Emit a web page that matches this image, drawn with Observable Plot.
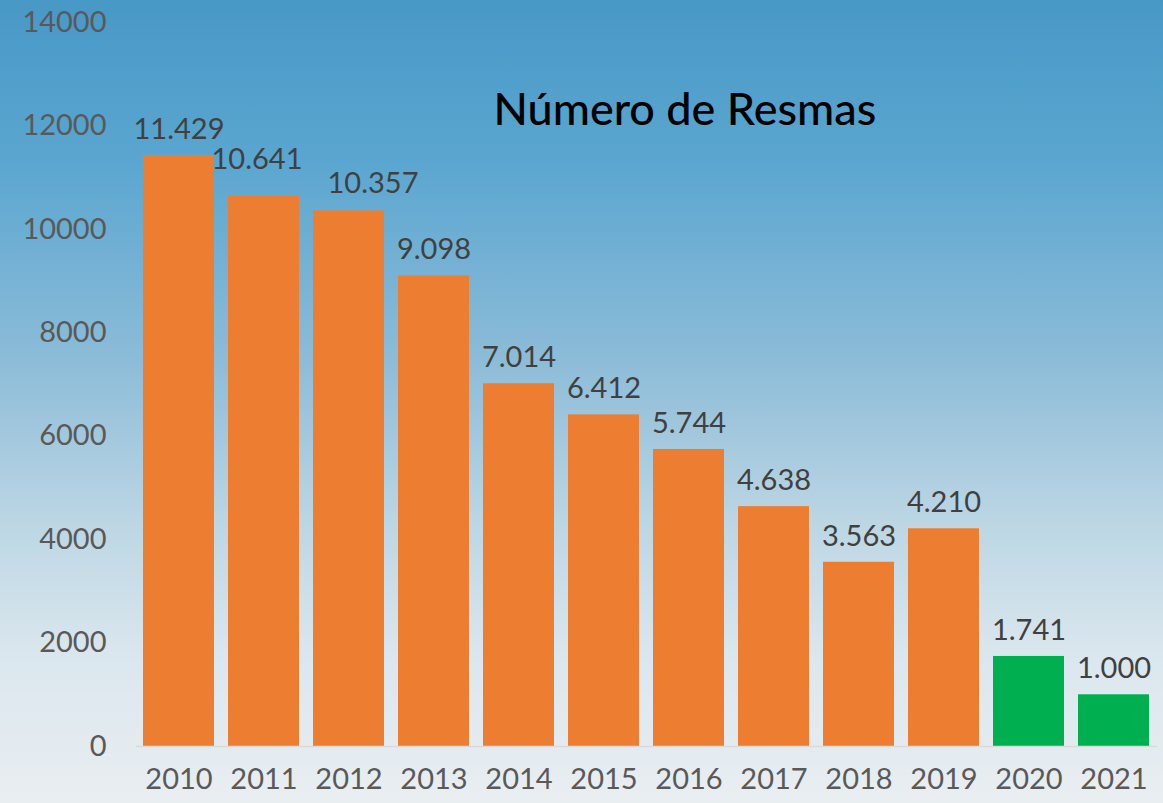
<!DOCTYPE html>
<html>
<head>
<meta charset="utf-8">
<script src="https://cdn.jsdelivr.net/npm/d3@7"></script>
<script src="https://cdn.jsdelivr.net/npm/@observablehq/plot@0.6"></script>
<style>
  html, body { margin: 0; padding: 0; }
  body {
    width: 1163px; height: 803px; overflow: hidden;
    background: linear-gradient(to bottom, #4898c6 0%, #5aa6d0 20%, #8dbcd8 45%, #bcd6e4 65%, #dbe7ee 82%, #e9eef1 100%);
  }
  #chart svg { display: block; background: transparent; }
</style>
</head>
<body>
<div id="chart"></div>
<script>
const years = ["2010","2011","2012","2013","2014","2015","2016","2017","2018","2019","2020","2021"];
const resmas = [11429, 10641, 10357, 9098, 7014, 6412, 5744, 4638, 3563, 4210, 1741, 1000];
const groups = ["past","past","past","past","past","past","past","past","past","past","goal","goal"];
const yTicks = [0, 2000, 4000, 6000, 8000, 10000, 12000, 14000];
const title = "Número de Resmas";

const data = years.map((y, i) => ({year: y, value: resmas[i], group: groups[i]}));
const fmt = v => d3.format(",.3f")(v / 1000).replace(",", "");
const font = "'Century Gothic', 'URW Gothic', Lato, 'DejaVu Sans', sans-serif";
const labelStyle = {x: "year", y: "value", text: d => fmt(d.value), fontSize: 29, fill: "#404040"};

const chart = Plot.plot({
  width: 1163,
  height: 803,
  marginLeft: 136,
  marginRight: 6,
  marginTop: 22,
  marginBottom: 57,
  style: {background: "transparent", fontFamily: font, overflow: "visible"},
  x: {domain: years, paddingInner: 0.16, paddingOuter: 0.05, label: null},
  y: {domain: [0, 14000], label: null},
  color: {domain: ["past", "goal"], range: ["#ED7D31", "#00B050"]},
  marks: [
    Plot.axisY({ticks: yTicks, tickSize: 0, tickPadding: 30, tickFormat: d => String(d), label: null,
      fontSize: 29, fill: "#595959", textAnchor: "end"}),
    Plot.axisX({tickSize: 0, tickPadding: 22, label: null, fontSize: 29, fill: "#595959"}),
    Plot.barY(data, {x: "year", y: "value", fill: "group"}),
    Plot.ruleY([0], {stroke: "#d9d9d9", strokeWidth: 1.5}),
    Plot.text(data.filter(d => d.year !== "2011" && d.year !== "2012"), {...labelStyle, dy: -26}),
    Plot.text(data.filter(d => d.year === "2011"), {...labelStyle, dy: -36, dx: -7}),
    Plot.text(data.filter(d => d.year === "2012"), {...labelStyle, dy: -27, dx: 24}),
    Plot.text([title], {frameAnchor: "top-left", text: d => d, dx: 357, dy: 88,
      lineAnchor: "middle", fontSize: 45, fill: "#000", fontWeight: 500, textAnchor: "start",
      fontFamily: "'Gill Sans', Lato, 'Open Sans', sans-serif"})
  ]
});
document.getElementById("chart").append(chart);
</script>
</body>
</html>
